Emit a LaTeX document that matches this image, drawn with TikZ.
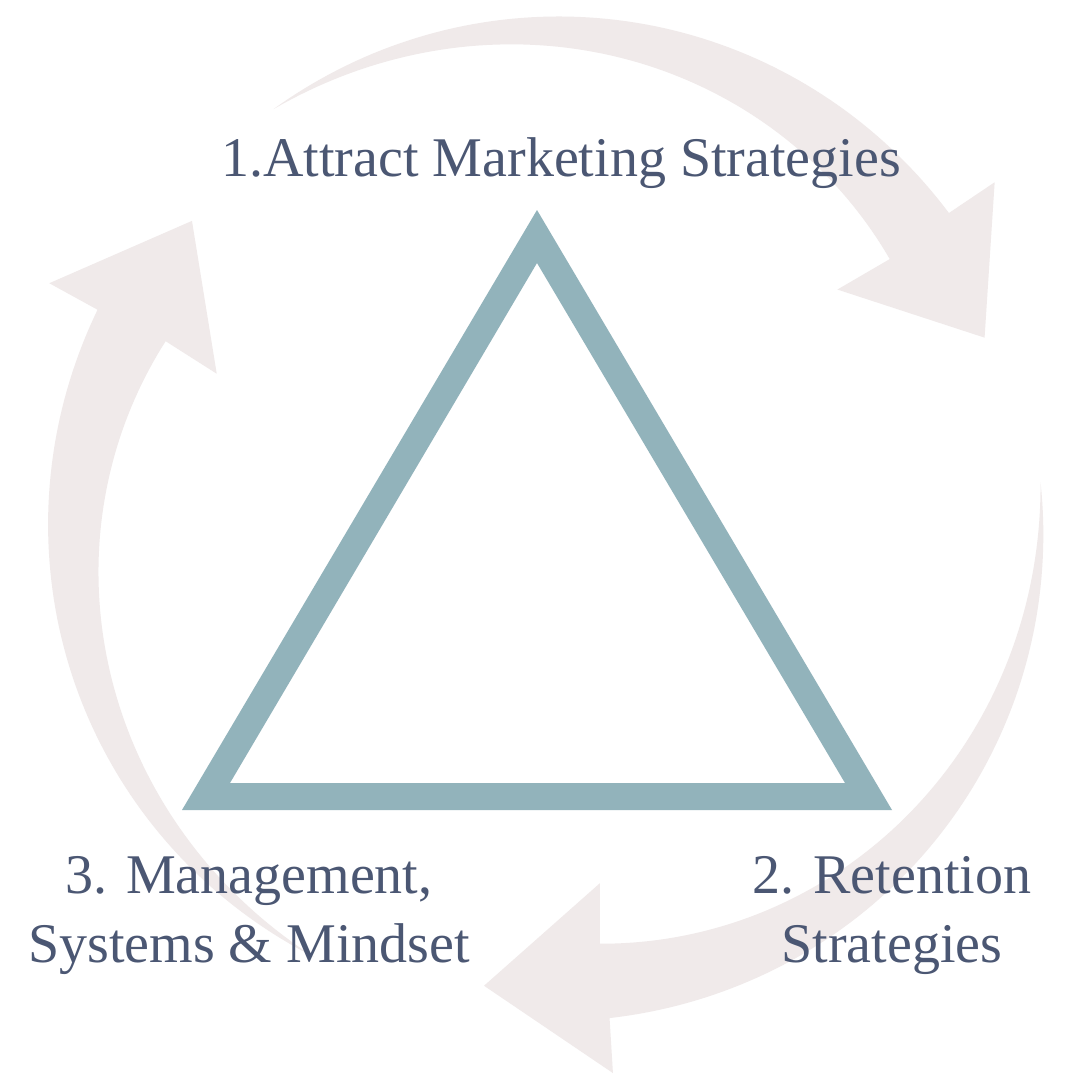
\documentclass[tikz,border=0pt]{standalone}
\usepackage{fontspec}
\setmainfont{Liberation Serif}
\definecolor{arrowc}{HTML}{F0EAEA}
\definecolor{tric}{HTML}{92B3BB}
\definecolor{txtc}{HTML}{4B5773}
\tikzset{
  lbl/.style={text=txtc, font=\fontsize{56}{69}\selectfont, inner sep=0pt, align=center},
  band/.style={fill=arrowc},
  tri/.style={fill=tric, even odd rule},
}
% #1 = tail angle, #2 = angular span (screen angles, clockwise, centre (548,520))
\newcommand{\cycarrow}[2]{%
  \fill[band] plot[domain=0:1, samples=80, variable=\t] ({#1+#2*\t}:{495+7*\t+5*sin(180*\t)})
    -- ({#1+#2+0.3}:557) -- ({#1+#2+14.8}:470) -- ({#1+#2-1.2}:367)
    -- plot[domain=1:0, samples=80, variable=\t] ({#1+#2*\t}:{495+7*\t+5*sin(180*\t)-75*\t}) -- cycle;}
\begin{document}
\begin{tikzpicture}[x=1pt, y=-1pt]
\useasboundingbox (0,0) rectangle (1080,1080);
\fill[white] (0,0) rectangle (1080,1080);

\begin{scope}[shift={(551,519)}]
  \cycarrow{-124.1}{86.6}  % top arrow
\end{scope}
\begin{scope}[shift={(547,520)}]
  \cycarrow{-4.4}{87.3}    % right arrow
\end{scope}
\begin{scope}[shift={(552,523)}]
  \cycarrow{118.7}{86.5}   % left arrow
\end{scope}

% triangle
\fill[tri] (537,210) -- (892,810) -- (182,810) -- cycle
           (537,263) -- (230,783) -- (845,783) -- cycle;

% labels
\node[lbl, anchor=base] (t1) at (561,176) {1.Attract Marketing Strategies};
\node[lbl, anchor=base] (t2) at (892,962) {2. Retention\\Strategies};
\node[lbl, anchor=base] (t3) at (249,962) {3. Management,\\Systems \& Mindset};
\end{tikzpicture}
\end{document}
